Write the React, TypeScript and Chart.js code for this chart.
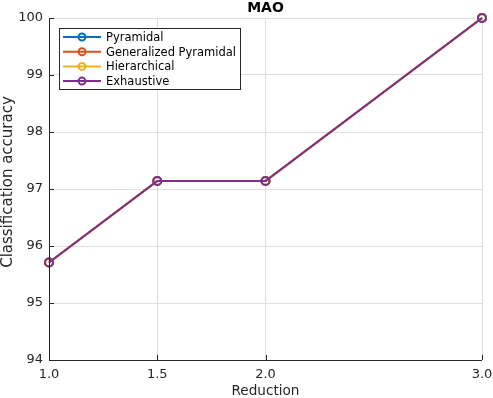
import React, { useEffect, useRef } from "react";
import { Chart, registerables } from "chart.js";

Chart.register(...registerables);

const reductions = [1.0, 1.5, 2.0, 3.0];
const xTicks = [1.0, 1.5, 2.0, 3.0];
const yTicks = [94, 95, 96, 97, 98, 99, 100];
const pyramidal = [95.71, 97.14, 97.14, 100];
const generalizedPyramidal = [95.71, 97.14, 97.14, 100];
const hierarchical = [95.71, 97.14, 97.14, 100];
const exhaustive = [95.71, 97.14, 97.14, 100];
const seriesNames = ["Pyramidal", "Generalized Pyramidal", "Hierarchical", "Exhaustive"];
const seriesColors = ["#0072BD", "#D95319", "#EDB120", "#7E2F8E"];
const titleText = "MAO";
const xLabel = "Reduction";
const yLabel = "Classification accuracy";

const FONT = "'DejaVu Sans', sans-serif";

const decorPlugin = {
  id: "decor",
  afterDraw(chart: any) {
    const { ctx, chartArea } = chart;
    const { left, right, top, bottom } = chartArea;
    const xs = chart.scales.x;
    const ys = chart.scales.y;
    ctx.save();
    // axis lines
    ctx.strokeStyle = "#262626";
    ctx.lineWidth = 1;
    ctx.beginPath();
    ctx.moveTo(left + 0.5, top);
    ctx.lineTo(left + 0.5, bottom + 0.5);
    ctx.lineTo(right, bottom + 0.5);
    ctx.stroke();
    // inward ticks
    ctx.beginPath();
    xTicks.forEach((v) => {
      const px = Math.round(xs.getPixelForValue(v)) + 0.5;
      ctx.moveTo(px, bottom);
      ctx.lineTo(px, bottom - 5);
    });
    yTicks.forEach((v) => {
      const py = Math.round(ys.getPixelForValue(v)) + 0.5;
      ctx.moveTo(left, py);
      ctx.lineTo(left + 5, py);
    });
    ctx.stroke();
    // title
    ctx.fillStyle = "#000";
    ctx.font = `bold 14px ${FONT}`;
    ctx.textAlign = "center";
    ctx.textBaseline = "middle";
    ctx.fillText(titleText, (left + right) / 2, 8);
    // y label
    ctx.save();
    ctx.fillStyle = "#262626";
    ctx.font = `15px ${FONT}`;
    ctx.translate(8, (top + bottom) / 2 - 7);
    ctx.rotate(-Math.PI / 2);
    ctx.fillText(yLabel, 0, 0);
    ctx.restore();
    // x label
    ctx.fillStyle = "#262626";
    ctx.font = `13.6px ${FONT}`;
    ctx.fillText(xLabel, (left + right) / 2, 391);
    // legend
    const lx = 59, ly = 28, lw = 181, lh = 61;
    ctx.fillStyle = "#fff";
    ctx.fillRect(lx, ly, lw, lh);
    ctx.strokeStyle = "#262626";
    ctx.lineWidth = 1;
    ctx.strokeRect(lx + 0.5, ly + 0.5, lw, lh);
    ctx.font = `11.5px ${FONT}`;
    ctx.textAlign = "left";
    seriesNames.forEach((name, i) => {
      const cy = ly + 9 + i * 14.7;
      ctx.strokeStyle = seriesColors[i];
      ctx.lineWidth = 2;
      ctx.beginPath();
      ctx.moveTo(lx + 4, cy);
      ctx.lineTo(lx + 42, cy);
      ctx.stroke();
      ctx.beginPath();
      ctx.arc(lx + 23, cy, 3.5, 0, Math.PI * 2);
      ctx.stroke();
      ctx.fillStyle = "#000";
      ctx.fillText(name, lx + 47, cy + 1);
    });
    ctx.restore();
  },
};

export default function App() {
  const ref = useRef<HTMLCanvasElement>(null);
  useEffect(() => {
    const allSeries = [pyramidal, generalizedPyramidal, hierarchical, exhaustive];
    const chart = new Chart(ref.current!, {
      type: "line",
      data: {
        datasets: allSeries.map((s, i) => ({
          label: seriesNames[i],
          data: reductions.map((x, j) => ({ x, y: s[j] })),
          order: allSeries.length - i,
          borderColor: seriesColors[i],
          backgroundColor: "rgba(0,0,0,0)",
          borderWidth: 2,
          pointRadius: 4,
          pointBorderWidth: 2,
          pointBackgroundColor: "rgba(255,255,255,0)",
          pointBorderColor: seriesColors[i],
          tension: 0,
          clip: false as any,
        })),
      },
      options: {
        animation: false,
        responsive: false,
        devicePixelRatio: 1,
        layout: { padding: { top: 18, right: 11, left: 0, bottom: 0 } },
        plugins: { legend: { display: false }, tooltip: { enabled: false }, title: { display: false } },
        scales: {
          x: {
            type: "linear",
            min: 1,
            max: 3,
            afterBuildTicks: (s: any) => {
              s.ticks = xTicks.map((v) => ({ value: v }));
            },
            afterFit: (s: any) => {
              s.height = 38;
              s.paddingLeft = 0;
              s.paddingRight = 0;
            },
            ticks: {
              autoSkip: false,
              maxRotation: 0,
              padding: 7,
              color: "#262626",
              font: { family: FONT, size: 13 },
              callback: (v: any) => Number(v).toFixed(1),
            },
            grid: { color: "#dedede", drawTicks: false },
            border: { display: false },
          },
          y: {
            type: "linear",
            min: 94,
            max: 100,
            afterBuildTicks: (s: any) => {
              s.ticks = yTicks.map((v) => ({ value: v }));
            },
            afterFit: (s: any) => {
              s.width = 49;
              s.paddingTop = 0;
              s.paddingBottom = 0;
            },
            ticks: {
              padding: 6,
              color: "#262626",
              font: { family: FONT, size: 13 },
              callback: (v: any) => String(v),
            },
            grid: { color: "#dedede", drawTicks: false },
            border: { display: false },
          },
        },
      },
      plugins: [decorPlugin],
    } as any);
    return () => chart.destroy();
  }, []);
  return (
    <div style={{ position: "fixed", left: 0, top: 0, width: 493, height: 398, background: "#fff" }}>
      <canvas ref={ref} width={493} height={398} style={{ width: 493, height: 398 }} />
    </div>
  );
}
